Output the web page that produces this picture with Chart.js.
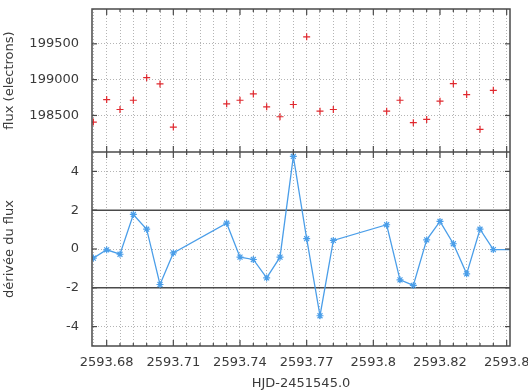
<!DOCTYPE html>
<html>
<head>
<meta charset="utf-8">
<script src="https://cdn.jsdelivr.net/npm/chart.js@4.4.1/dist/chart.umd.min.js"></script>
<style>
  body { margin: 0; background: #fff; }
  #wrap { width: 528px; height: 392px; }
</style>
</head>
<body>
<div id="wrap"><canvas id="graph" width="528" height="392"></canvas></div>
<script>
// temps (HJD-2451545.0)
const hjd = [2593.674, 2593.680, 2593.686, 2593.692, 2593.698, 2593.704, 2593.710,
  2593.734, 2593.740, 2593.746, 2593.752, 2593.758, 2593.764, 2593.770, 2593.776, 2593.782,
  2593.806, 2593.812, 2593.818, 2593.824, 2593.830, 2593.836, 2593.842, 2593.848, 2593.854, 2593.866]
// flux (electrons)
const flux = [198407, 198722, 198583, 198712, 199028, 198940, 198338,
  198662, 198712, 198800, 198621, 198482, 198653, 199597, 198560, 198583,
  198560, 198712, 198399, 198444, 198699, 198944, 198792, 198306, 198851, null]
// dérivée du flux
const derivee = [-0.47, -0.04, -0.27, 1.78, 1.02, -1.83, -0.2,
  1.33, -0.42, -0.54, -1.49, -0.42, 4.77, 0.53, -3.44, 0.44,
  1.25, -1.59, -1.88, 0.47, 1.42, 0.27, -1.28, 1.02, -0.03, -0.03]

const xTickLabels = ["2593.68", "2593.71", "2593.74", "2593.77", "2593.8", "2593.82", "2593.8"]
const fluxTicks = [198500, 199000, 199500]
const deriveeTicks = [-4, -2, 0, 2, 4]
const seuils = [2, -2]

const texte = "#3a3a3a"
const police = { family: "DejaVu Sans", size: 13 }

// graduations mineures de l'axe x, une majeure sur cinq
const xTicks = []
for (let k = 0; k <= 31; k++) {
  xTicks.push({ value: Math.round((2593.674 + 0.006 * k) * 1e6) / 1e6, major: (k - 1) % 5 === 0 })
}

function ligne(ctx, x1, y1, x2, y2) {
  ctx.beginPath()
  ctx.moveTo(x1, y1)
  ctx.lineTo(x2, y2)
  ctx.stroke()
}

// pas de marge automatique autour des axes
function sansMarge(s) {
  s.paddingTop = 0
  s.paddingBottom = 0
  s.paddingLeft = 0
  s.paddingRight = 0
}

const cadre = {
  id: "cadre",
  beforeDatasetsDraw(chart) {
    const { ctx, chartArea: a } = chart
    const yd = chart.scales.yDer
    ctx.save()
    ctx.strokeStyle = "#4a4a4a"
    ctx.lineWidth = 1.5
    seuils.forEach(v => {
      const y = yd.getPixelForValue(v)
      ligne(ctx, a.left, y, a.right, y)
    })
    ctx.restore()
  },
  afterDraw(chart) {
    const { ctx, chartArea: a } = chart
    const xs = chart.scales.x
    const sep = chart.scales.yFlux.bottom
    ctx.save()
    ctx.strokeStyle = "#4a4a4a"
    ctx.lineWidth = 1.5
    ctx.strokeRect(a.left, a.top, a.right - a.left, a.bottom - a.top)
    ligne(ctx, a.left, sep, a.right, sep)
    ctx.lineWidth = 1.2
    xs.ticks.forEach((t, i) => {
      const px = xs.getPixelForValue(t.value)
      if (px < a.left + 2 || px > a.right - 1) return
      const len = xTicks[i].major ? 6 : 3
      ligne(ctx, px, a.top, px, a.top + len)
      ligne(ctx, px, sep - len, px, sep + len)
      ligne(ctx, px, a.bottom - len, px, a.bottom)
    })
    ;[chart.scales.yFlux, chart.scales.yDer].forEach(s => {
      s.ticks.forEach(t => {
        const py = s.getPixelForValue(t.value)
        ligne(ctx, a.left, py, a.left + 5, py)
        ligne(ctx, a.right - 5, py, a.right, py)
      })
    })
    ctx.restore()
  }
}

const grille = { color: "#b4b4b4", lineWidth: 1, drawTicks: false }
const bord = { display: false, dash: [1, 2] }

new Chart(document.getElementById("graph"), {
  type: "line",
  data: {
    datasets: [
      {
        label: "flux",
        data: hjd.map((x, i) => ({ x, y: flux[i] })),
        yAxisID: "yFlux",
        showLine: false,
        pointStyle: "cross",
        pointRadius: 3.5,
        pointBorderWidth: 1.2,
        borderColor: "#e0282e",
        backgroundColor: "#e0282e"
      },
      {
        label: "dérivée",
        data: hjd.map((x, i) => ({ x, y: derivee[i] })),
        yAxisID: "yDer",
        borderColor: "#4a9ee9",
        backgroundColor: "#4a9ee9",
        borderWidth: 1.3,
        pointStyle: "star",
        pointRadius: 3.5,
        pointBorderWidth: 1.2,
        tension: 0
      }
    ]
  },
  options: {
    responsive: false,
    animation: false,
    layout: { padding: { top: 9, right: 18, left: 0, bottom: 0 } },
    plugins: {
      legend: { display: false },
      tooltip: { enabled: false }
    },
    scales: {
      x: {
        type: "linear",
        min: 2593.6734,
        max: 2593.8615,
        afterBuildTicks: s => { s.ticks = xTicks.map(t => ({ value: t.value })) },
        afterFit: s => { s.height = 46; sansMarge(s) },
        grid: grille,
        border: bord,
        ticks: {
          autoSkip: false,
          maxRotation: 0,
          padding: 9,
          color: texte,
          font: police,
          callback: (v, i) => xTicks[i].major ? xTickLabels[(i - 1) / 5] : ""
        },
        title: { display: true, text: "HJD-2451545.0", color: texte, font: police, padding: { top: 0, bottom: 1 } }
      },
      yDer: {
        type: "linear",
        position: "left",
        stack: "panneaux",
        stackWeight: 194,
        min: -5,
        max: 5,
        afterBuildTicks: s => { s.ticks = deriveeTicks.map(v => ({ value: v })) },
        afterFit: s => { s.width = 92; sansMarge(s) },
        grid: grille,
        border: bord,
        ticks: { padding: 13, color: texte, font: police, callback: v => String(v) },
        title: { display: true, text: "dérivée du flux", color: texte, font: police, padding: { top: 2, bottom: 0 } }
      },
      yFlux: {
        type: "linear",
        position: "left",
        stack: "panneaux",
        stackWeight: 143,
        min: 197990,
        max: 199986,
        afterBuildTicks: s => { s.ticks = fluxTicks.map(v => ({ value: v })) },
        afterFit: s => { s.width = 92; sansMarge(s) },
        grid: grille,
        border: bord,
        ticks: { padding: 13, color: texte, font: police, callback: v => String(v) },
        title: { display: true, text: "flux (electrons)", color: texte, font: police, padding: { top: 2, bottom: 0 } }
      }
    }
  },
  plugins: [cadre]
})
</script>
</body>
</html>
